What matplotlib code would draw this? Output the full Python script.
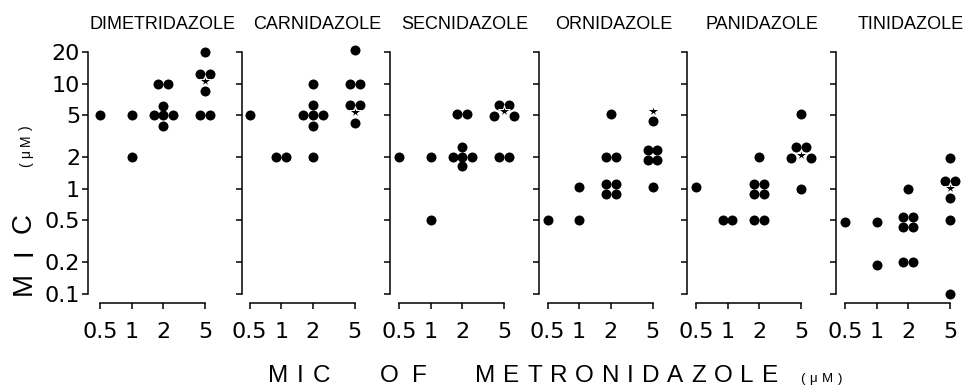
import numpy as np
import matplotlib
matplotlib.use("Agg")
import matplotlib.pyplot as plt
import matplotlib.transforms as mtransforms
from matplotlib.ticker import NullLocator

# MIC of each nitroimidazole against MIC of metronidazole (uM), one list per metronidazole column
drugs = ["DIMETRIDAZOLE", "CARNIDAZOLE", "SECNIDAZOLE", "ORNIDAZOLE", "PANIDAZOLE", "TINIDAZOLE"]
metro_mic = [0.5, 1, 2, 5]
x_ticklabels = ["0.5", "1", "2", "5"]
y_ticks = [0.1, 0.2, 0.5, 1, 2, 5, 10, 20]
y_ticklabels = ["0.1", "0.2", "0.5", "1", "2", "5", "10", "20"]

dimetridazole = [[5], [5, 2], [10, 10, 6.1, 5, 5, 5, 3.95], [20, 12.4, 12.4, 8.6, 5, 5]]
carnidazole = [[5], [2, 2], [10, 6.2, 5, 5, 5, 4.0, 2], [21, 10, 10, 6.3, 6.3, 4.25]]
secnidazole = [[2], [2, 0.5], [5.1, 5.1, 2.5, 2, 2, 2, 1.64], [6.3, 6.3, 4.9, 4.9, 2, 2]]
ornidazole = [[0.5], [1.04, 0.5], [5.2, 2, 2, 1.1, 1.1, 0.89, 0.89], [4.4, 2.33, 2.33, 1.87, 1.87, 1.04]]
panidazole = [[1.03], [0.5, 0.5], [2, 1.11, 1.11, 0.9, 0.9, 0.5, 0.5], [5.1, 2.51, 2.51, 1.98, 1.98, 1.0]]
tinidazole = [[0.48], [0.48, 0.19], [0.99, 0.54, 0.54, 0.43, 0.43, 0.2, 0.2], [1.95, 1.2, 1.2, 0.82, 0.5, 0.1]]
# star = summary value drawn in the 5 uM column
stars = [10.7, 5.4, 5.5, 5.5, 2.09, 1.02]

panels = [dimetridazole, carnidazole, secnidazole, ornidazole, panidazole, tinidazole]

W, H = 963, 387
fig = plt.figure(figsize=(W / 100, H / 100), dpi=100)
fig.patch.set_facecolor("white")

spine_px = [87.5, 241.7, 390, 538.5, 687, 836]
first_tick_px = [12.5, 8, 9, 9, 9, 9]
px_decade = 105
ax_w = 150
slot_px = 9.7
label_font = "Liberation Sans"


def spread_text(s, start, end, cross, vertical=False, **kw):
    # lay letters out one by one so the word fills start..end (pixels)
    r = fig.canvas.get_renderer()
    texts, sizes = [], []
    for ch in s:
        if vertical:
            t = fig.text(0, 0, ch, rotation=90, ha="center", va="bottom", **kw)
        else:
            t = fig.text(0, 0, ch, ha="left", va="baseline", **kw)
        bb = t.get_window_extent(r)
        sizes.append(bb.height if vertical else bb.width)
        texts.append(t)
    gap = (end - start - sum(sizes)) / max(len(s) - 1, 1)
    pos = start
    for t, w in zip(texts, sizes):
        if vertical:
            t.set_position((cross / W, pos / H))
        else:
            t.set_position((pos / W, cross / H))
        pos += w + gap


for i, name in enumerate(drugs):
    ax = fig.add_axes([spine_px[i] / W, 93 / H, ax_w / W, 242 / H])
    ax.patch.set_visible(False)
    ax.set_xscale("log")
    ax.set_yscale("log")

    star = stars[i]
    for x, col in zip(metro_mic, panels[i]):
        vals = np.array(col, dtype=float)
        for v in np.unique(vals):
            n = int(np.sum(vals == v))
            wide = (x == metro_mic[-1] and n == 2 and abs(np.log10(v / star)) < 0.055)
            slots = [-1, 1] if wide else np.arange(n) - (n - 1) / 2
            for s in slots:
                tr = ax.transData + mtransforms.ScaledTranslation(s * slot_px / fig.dpi, 0, fig.dpi_scale_trans)
                ax.plot([x], [v], "o", color="black", ms=7.2, mew=0, transform=tr, clip_on=False)
    ax.plot([metro_mic[-1]], [star], "*", ms=9, mfc="black", mec="white", mew=0.7,
            clip_on=False, zorder=5)

    xmin = 0.5 / 10 ** (first_tick_px[i] / px_decade)
    ax.set_xlim(xmin, xmin * 10 ** (ax_w / px_decade))
    ax.set_ylim(0.1, 20)

    for side in ["top", "right"]:
        ax.spines[side].set_visible(False)
    ax.spines["left"].set_bounds(0.1, 20)
    ax.spines["bottom"].set_bounds(0.5, 5)
    ax.spines["bottom"].set_position(("outward", 6.5))
    for side in ["left", "bottom"]:
        ax.spines[side].set_linewidth(1.1)

    ax.set_yticks(y_ticks)
    ax.set_yticklabels(y_ticklabels if i == 0 else [])
    ax.set_xticks(metro_mic)
    ax.set_xticklabels(x_ticklabels)
    ax.xaxis.set_minor_locator(NullLocator())
    ax.yaxis.set_minor_locator(NullLocator())
    ax.tick_params(axis="both", direction="out", length=4.3, width=1.1, labelsize=16)
    ax.tick_params(axis="x", pad=9)
    ax.tick_params(axis="y", pad=1)

    ax.set_title(name, fontsize=13, family=label_font, pad=16.5)

# axis labels with the wide letter spacing of the original
spread_text("MIC", 268, 330, 5, fontsize=17.5, family=label_font)
spread_text("OF", 380, 427, 5, fontsize=17.5, family=label_font)
spread_text("METRONIDAZOLE", 475, 778, 5, fontsize=17.5, family=label_font)
spread_text("(μM)", 800, 842, 5, fontsize=9.5, family=label_font)
spread_text("MIC", 92, 174, 24, vertical=True, fontsize=20, family=label_font)
spread_text("(μM)", 220, 262, 26, vertical=True, fontsize=10, family=label_font)

fig.savefig("out.png", dpi=100)
